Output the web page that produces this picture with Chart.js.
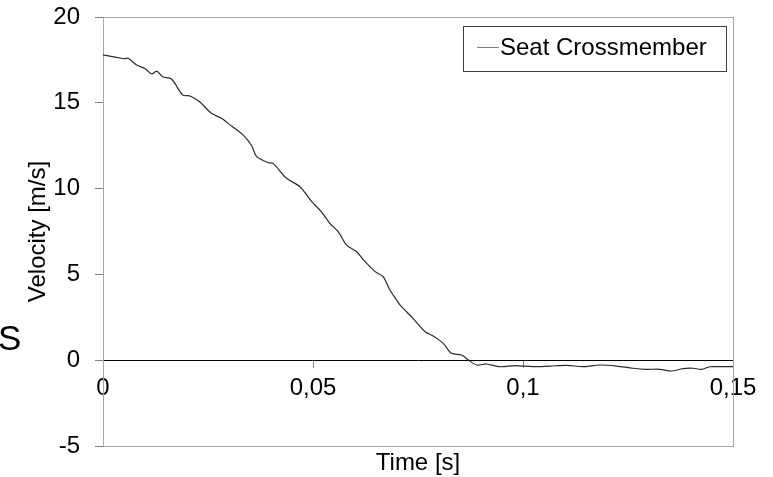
<!DOCTYPE html>
<html>
<head>
<meta charset="utf-8">
<script src="https://cdn.jsdelivr.net/npm/chart.js@4"></script>
<style>
  html, body { margin: 0; padding: 0; background: #fff; }
  #wrap { width: 773px; height: 477px; position: relative; }
</style>
</head>
<body>
<div id="wrap"><canvas id="velocityChart"></canvas></div>
<script>
const timeValues = [0, 0.0032, 0.0052, 0.006, 0.008, 0.010, 0.0116, 0.0128, 0.0142, 0.0163,
  0.019, 0.0207, 0.023, 0.0258, 0.0282, 0.0298, 0.0334, 0.0354, 0.0366, 0.0394,
  0.0405, 0.0437, 0.0469, 0.0497, 0.052, 0.054, 0.056, 0.058, 0.0604, 0.0624,
  0.0648, 0.0667, 0.0683, 0.0699, 0.0707, 0.0738, 0.0767, 0.0786, 0.081, 0.083,
  0.0854, 0.087, 0.089, 0.0913, 0.0945, 0.0981, 0.1024, 0.1064, 0.1104, 0.1143,
  0.1183, 0.1223, 0.1262, 0.1294, 0.1326, 0.1354, 0.1381, 0.1405, 0.1425, 0.1445,
  0.1476, 0.15];
const velocityValues = [17.79, 17.65, 17.57, 17.6, 17.2, 17.0, 16.68, 16.85, 16.52, 16.39,
  15.45, 15.4, 15.06, 14.39, 14.1, 13.8, 13.12, 12.5, 11.86, 11.51,
  11.47, 10.6, 10.11, 9.24, 8.65, 7.98, 7.49, 6.71, 6.32, 5.74,
  5.16, 4.87, 4.09, 3.51, 3.22, 2.44, 1.66, 1.41, 0.98, 0.40,
  0.30, 0.01, -0.28, -0.22, -0.38, -0.32, -0.38, -0.34, -0.30, -0.38,
  -0.28, -0.34, -0.47, -0.53, -0.53, -0.63, -0.49, -0.47, -0.53, -0.38,
  -0.38, -0.38];
const xTickValues = [0, 0.05, 0.1, 0.15];
const xTickLabels = ['0', '0,05', '0,1', '0,15'];
const yTickValues = [-5, 0, 5, 10, 15, 20];
const yTickLabels = ['-5', '0', '5', '10', '15', '20'];
const seriesName = 'Seat Crossmember';

const fontFamily = '"Liberation Sans", Arial, sans-serif';

// frame around the plot, legend box and the stray "S" on the left
const decor = {
  id: 'decor',
  beforeDatasetsDraw(chart) {
    const { ctx, chartArea: a } = chart;
    ctx.save();
    ctx.strokeStyle = '#a6a6a6';
    ctx.lineWidth = 1;
    ctx.strokeRect(a.left + 0.5, a.top + 0.5, a.right - a.left, a.bottom - a.top);
    ctx.restore();
  },
  afterDraw(chart) {
    const { ctx } = chart;
    ctx.save();
    ctx.fillStyle = '#fff';
    ctx.fillRect(463, 26, 263, 45);
    ctx.strokeStyle = '#404040';
    ctx.lineWidth = 1;
    ctx.strokeRect(463.5, 26.5, 263, 45);
    ctx.strokeStyle = '#808080';
    ctx.beginPath();
    ctx.moveTo(477, 47.5);
    ctx.lineTo(499, 47.5);
    ctx.stroke();
    ctx.fillStyle = '#000';
    ctx.font = '24px ' + fontFamily;
    ctx.textBaseline = 'middle';
    ctx.textAlign = 'left';
    ctx.fillText(chart.data.datasets[0].label, 500, 48);
    ctx.font = '35px ' + fontFamily;
    ctx.textBaseline = 'alphabetic';
    ctx.fillText('S', -2, 350);
    ctx.restore();
  }
};

new Chart(document.getElementById('velocityChart'), {
  type: 'line',
  data: {
    datasets: [{
      label: seriesName,
      data: timeValues.map((t, i) => ({ x: t, y: velocityValues[i] })),
      borderColor: '#2a2a2a',
      borderWidth: 1.2,
      pointRadius: 0,
      tension: 0.3,
      fill: false
    }]
  },
  options: {
    responsive: true,
    maintainAspectRatio: false,
    animation: false,
    layout: { padding: { top: 17, right: 40, bottom: 0, left: 0 } },
    plugins: { legend: { display: false }, tooltip: { enabled: false } },
    scales: {
      x: {
        type: 'linear',
        position: { y: 0 },
        min: 0,
        max: 0.15,
        afterBuildTicks: (s) => { s.ticks = xTickValues.map(v => ({ value: v })); },
        ticks: {
          color: '#000',
          font: { family: fontFamily, size: 24 },
          padding: 7,
          maxRotation: 0,
          callback: (v) => xTickLabels[xTickValues.indexOf(v)]
        },
        grid: { drawOnChartArea: false, drawTicks: true, tickLength: 7, color: '#808080' },
        border: { display: true, color: '#000', width: 1 }
      },
      x2: {
        type: 'linear',
        position: 'bottom',
        min: 0,
        max: 0.15,
        afterFit: (s) => { s.height = 31; },
        ticks: { display: false },
        grid: { display: false, drawTicks: false },
        border: { display: false },
        title: {
          display: true,
          text: 'Time [s]',
          color: '#000',
          font: { family: fontFamily, size: 24, lineHeight: 1 },
          padding: { top: 5, bottom: 2 }
        }
      },
      y: {
        position: 'left',
        min: -5,
        max: 20,
        afterBuildTicks: (s) => { s.ticks = yTickValues.map(v => ({ value: v })); },
        afterFit: (s) => { s.width = 103; },
        ticks: {
          color: '#000',
          font: { family: fontFamily, size: 24, lineHeight: 0.1 },
          padding: 15,
          callback: (v) => yTickLabels[yTickValues.indexOf(v)]
        },
        grid: { drawOnChartArea: false, drawTicks: true, tickLength: 8, color: '#808080' },
        border: { display: true, color: '#808080', width: 1 },
        title: {
          display: true,
          text: 'Velocity [m/s]',
          color: '#000',
          font: { family: fontFamily, size: 24, lineHeight: 1 },
          padding: { top: 26, bottom: 0 }
        }
      }
    }
  },
  plugins: [decor]
});
</script>
</body>
</html>
